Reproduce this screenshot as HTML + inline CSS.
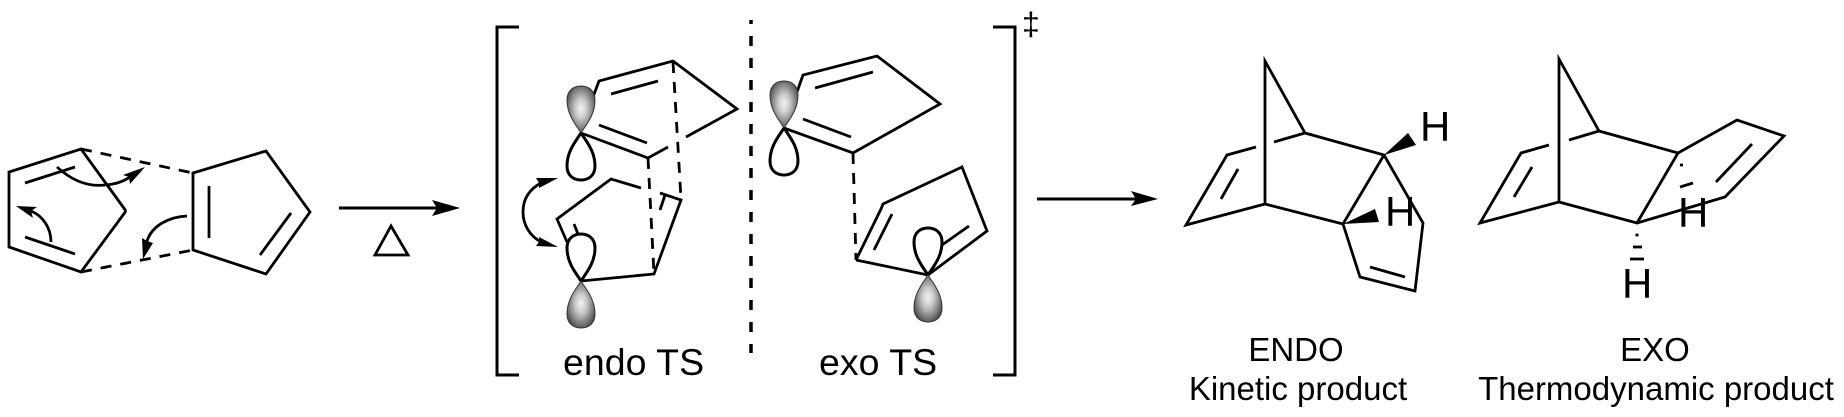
<!DOCTYPE html>
<html>
<head>
<meta charset="utf-8">
<title>Diels-Alder endo and exo</title>
<style>
html,body{margin:0;padding:0;background:#fff;width:1844px;height:417px;overflow:hidden}
svg{display:block}
text{font-family:"Liberation Sans",sans-serif;fill:#000}
.l{fill:none;stroke:#000;stroke-width:2.8;stroke-linejoin:miter;stroke-linecap:butt}
.d{fill:none;stroke:#000;stroke-width:2.8;stroke-dasharray:11 9}
.w{fill:#fff;stroke:#000;stroke-width:3}
.s{fill:url(#g);stroke:#333;stroke-width:1}
</style>
</head>
<body>
<svg width="1844" height="417" viewBox="0 0 1844 417" xmlns="http://www.w3.org/2000/svg">
<defs>
<radialGradient id="g" cx="50%" cy="48%" r="60%">
<stop offset="0" stop-color="#f4f4f4"/>
<stop offset=".35" stop-color="#c8c8c8"/>
<stop offset=".8" stop-color="#6a6a6a"/>
<stop offset="1" stop-color="#3a3a3a"/>
</radialGradient>
<path id="dn" d="M0,0 C-5,8 -14,18 -14,33 C-14,43 -7,47 0,47 C7,47 14,43 14,33 C14,18 5,8 0,0Z"/>
<path id="up" d="M0,0 C-5,-8 -14,-18 -14,-33 C-14,-43 -7,-47 0,-47 C7,-47 14,-43 14,-33 C14,-18 5,-8 0,0Z"/>
</defs>

<!-- Reactants -->
<polyline class="l" points="126,211 81,149 9,172 9,247 81,272 126,211"/>
<line class="l" x1="25" y1="183" x2="75" y2="167"/>
<line class="l" x1="25" y1="237" x2="75" y2="254"/>
<line class="d" x1="81" y1="149" x2="193" y2="173"/>
<line class="d" x1="81" y1="272" x2="193" y2="250"/>
<polygon class="l" points="193,173 266,151 310,212 266,274 193,250"/>
<line class="l" x1="209" y1="186" x2="209" y2="238"/>
<line class="l" x1="291" y1="213" x2="260" y2="255"/>
<path class="l" d="M57,167 Q80,188 105,185 Q120,184 130,177"/>
<polygon points="145,167 123,175 129,177 130,184"/>
<path class="l" d="M51,242 C51,228 43,216 31,211"/>
<polygon points="16,206 37,207 31,211 33,218"/>
<path class="l" d="M187,216 C168,217 152,226 147,241"/>
<polygon points="143,259 142,238 147,241 153,243"/>

<line x1="339" y1="208" x2="440" y2="208" stroke="#000" stroke-width="3"/>
<polygon points="460,208 432,200 437,208 432,216"/>
<polygon class="l" points="391,226 375,255 408,255"/>

<!-- Brackets and separator -->
<polyline class="l" points="519,27 497,27 497,375 519,375" style="stroke-width:3"/>
<polyline class="l" points="993,27 1015,27 1015,375 993,375" style="stroke-width:3"/>
<line x1="751" y1="20" x2="751" y2="353" stroke="#000" stroke-width="3.500" stroke-dasharray="10 12" stroke-dashoffset="6"/>
<text x="1022" y="35" font-size="32">‡</text>

<!-- Endo TS -->
<polyline class="l" points="593,97 599,81 673,61 737,109 686,137"/>
<polyline class="l" points="668,147 648,158 581,133"/>
<line class="l" x1="611" y1="94" x2="658" y2="81"/>
<line class="l" x1="599" y1="125" x2="647" y2="143"/>
<line class="d" x1="673" y1="62" x2="681" y2="199"/>
<line class="d" x1="648" y1="158" x2="654" y2="274"/>
<polyline class="l" points="567,242 557,219 611,179 641,188"/>
<polyline class="l" points="660,193 681,200 654,274 581,281"/>
<line class="l" x1="665" y1="195" x2="660" y2="210"/>
<line class="l" x1="574" y1="224" x2="578" y2="234"/>
<use href="#dn" x="581" y="133" class="w"/>
<use href="#up" x="581" y="133" class="s"/>
<use href="#up" x="581" y="281" class="w"/>
<use href="#dn" x="581" y="281" class="s"/>
<path class="l" d="M541,183 C528,190 523,200 523,212 C523,225 530,236 541,242"/>
<polygon points="558,178 536,178 539,183 539,188"/>
<polygon points="558,247 536,246 539,242 539,237"/>
<text x="563" y="375" font-size="37.500">endo TS</text>

<!-- Exo TS -->
<polyline class="l" points="797,92 803,75 877,56 940,104 853,153 784,128"/>
<line class="l" x1="815" y1="88" x2="873" y2="72"/>
<line class="l" x1="803" y1="119" x2="851" y2="137"/>
<line class="d" x1="853" y1="153" x2="856" y2="260"/>
<polyline class="l" points="856,260 881,209 883,204 962,167 987,231 928,275 856,260"/>
<line class="l" x1="874" y1="250" x2="892" y2="214"/>
<line class="l" x1="969" y1="226" x2="942" y2="245"/>
<use href="#dn" x="784" y="128" class="w"/>
<use href="#up" x="784" y="128" class="s"/>
<use href="#up" x="928" y="275" class="w"/>
<use href="#dn" x="928" y="275" class="s"/>
<text x="819" y="375" font-size="37.500">exo TS</text>

<!-- Forward arrow -->
<line x1="1037" y1="199" x2="1140" y2="199" stroke="#000" stroke-width="3"/>
<polygon points="1158,199 1131,191 1136,199 1131,206"/>

<!-- Endo product -->
<polygon class="l" points="1265,61 1305,133 1384,155 1343,224 1265,204"/>
<polyline class="l" points="1256,147 1227,155 1186,225 1265,204"/>
<line class="l" x1="1274" y1="142" x2="1305" y2="133"/>
<line class="l" x1="1238" y1="169" x2="1221" y2="199"/>
<polyline class="l" points="1384,155 1423,223 1415,291 1360,277 1343,224"/>
<line class="l" x1="1370" y1="267" x2="1405" y2="277"/>
<polygon points="1384,155 1408,133 1416,145"/>
<polygon points="1343,224 1375,209 1379,222"/>
<text x="1420" y="141" font-size="42">H</text>
<text x="1385" y="226" font-size="42">H</text>
<text x="1296" y="361" font-size="33" text-anchor="middle">ENDO</text>
<text x="1298" y="400" font-size="33" text-anchor="middle">Kinetic product</text>

<!-- Exo product -->
<polygon class="l" points="1559,59 1599,131 1678,153 1637,223 1559,202"/>
<polyline class="l" points="1549,145 1521,153 1480,223 1559,202"/>
<line class="l" x1="1569" y1="140" x2="1599" y2="131"/>
<line class="l" x1="1532" y1="167" x2="1514" y2="197"/>
<polyline class="l" points="1678,153 1737,120 1784,136 1725,197 1637,223"/>
<line class="l" x1="1752" y1="144" x2="1716" y2="182"/>
<line class="l" x1="1680" y1="165" x2="1683" y2="165"/>
<line class="l" x1="1680" y1="187" x2="1693" y2="183"/>
<text x="1678" y="227" font-size="42">H</text>
<line class="l" x1="1635.500" y1="235" x2="1638.500" y2="235"/>
<line class="l" x1="1633" y1="247" x2="1642" y2="247"/>
<line class="l" x1="1630" y1="259" x2="1644" y2="259"/>
<text x="1622" y="298" font-size="42">H</text>
<text x="1655" y="361" font-size="33" text-anchor="middle">EXO</text>
<text x="1656" y="400" font-size="33" text-anchor="middle">Thermodynamic product</text>
</svg>
</body>
</html>
